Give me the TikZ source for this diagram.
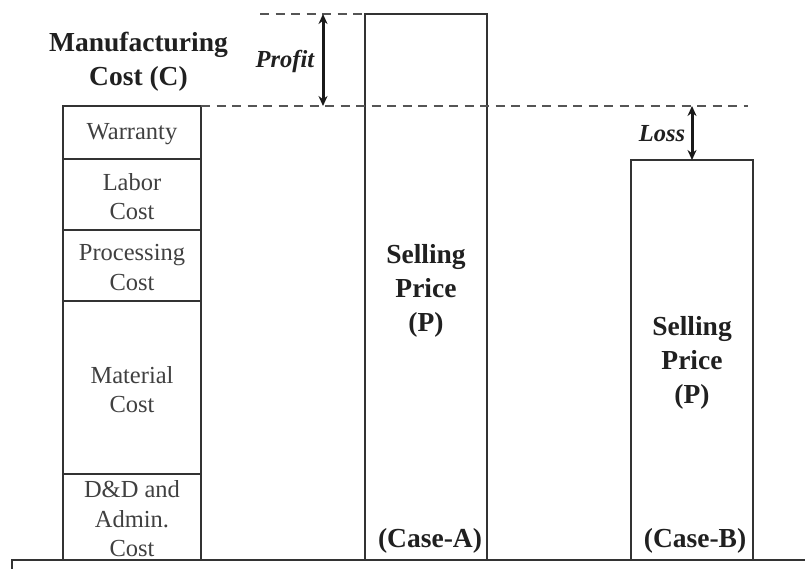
\documentclass[tikz,border=0pt]{standalone}
\usepackage{fontspec}
\setmainfont{Liberation Serif}
\usetikzlibrary{arrows.meta}
\definecolor{boxline}{HTML}{333333}
\definecolor{guide}{HTML}{555555}
\definecolor{plain}{HTML}{404040}
\definecolor{heavy}{HTML}{202020}
\begin{document}
\begin{tikzpicture}[x=1pt,y=-1pt,
  seg/.style={draw=boxline,line width=2.6pt,minimum width=138pt,inner sep=0pt,outer sep=0pt,
    anchor=north,align=center,text=plain,font=\fontsize{24.5}{29.5}\selectfont},
  segtext/.style={align=center,text=plain,inner sep=0pt,font=\fontsize{24.5}{29.5}\selectfont},
  bar/.style={draw=boxline,line width=2.6pt,minimum width=122pt,inner sep=0pt,outer sep=0pt,anchor=north},
  boldlbl/.style={align=center,text=heavy,inner sep=0pt,font=\fontsize{27.5}{34}\selectfont\bfseries},
  gap/.style={align=center,text=heavy,inner sep=0pt,font=\fontsize{24.5}{28}\selectfont\bfseries\itshape},
  guideline/.style={draw=guide,line width=2pt,dash pattern=on 9pt off 6.5pt},
  dimarrow/.style={draw=black!90,line width=3pt,{Stealth[length=10pt,width=9pt]}-{Stealth[length=10pt,width=9pt]}}
]
\useasboundingbox (0,0) rectangle (805,568);

% base line (top edge of the frame below)
\draw[boxline,line width=2.6pt] (12,575) -- (12,560) -- (810,560);

% manufacturing cost stack
\node[seg,minimum height=53pt]  (war) at (132,106) {};
\node[seg,minimum height=71pt]  (lab) at (war.south) {};
\node[seg,minimum height=71pt]  (pro) at (lab.south) {};
\node[seg,minimum height=173pt] (mat) at (pro.south) {};
\node[seg,minimum height=86pt]  (dad) at (mat.south) {};

\node[segtext] at ([yshift=-2pt]war.center) {Warranty};
\node[segtext] at ([yshift=-2pt]lab.center) {Labor\\Cost};
\node[segtext] at ([yshift=-2pt]pro.center) {Processing\\Cost};
\node[segtext] at ([yshift=-2pt]mat.center) {Material\\Cost};
\node[segtext] at ([yshift=-2pt]dad.center) {D\&D and\\Admin.\\Cost};

\node[boldlbl] (mc) at (138.5,62) {Manufacturing\\Cost (C)};

% selling price bars
\node[bar,minimum height=546pt] (casea) at (426,14) {};
\node[bar,minimum height=400pt] (caseb) at (692,160) {};

\node[boldlbl] (spa) at (426,291) {Selling\\Price\\(P)};
\node[boldlbl] (spb) at (692,363) {Selling\\Price\\(P)};
\node[boldlbl] (cla) at (430,541) {(Case-A)};
\node[boldlbl] (clb) at (695,541) {(Case-B)};

% reference levels
\coordinate (ptop) at (323,14);
\coordinate (pbot) at (323,106);
\coordinate (ltop) at (692,106);
\draw[guideline] (260,14) -- (casea.north west);
\draw[guideline] (war.north east) -- (748,106);

% profit and loss
\draw[dimarrow] (ptop) -- (pbot);
\draw[dimarrow] (ltop) -- (caseb.north);
\node[gap] (profit) at (285,61) {Profit};
\node[gap] (loss) at (662,134) {Loss};
\end{tikzpicture}
\end{document}
